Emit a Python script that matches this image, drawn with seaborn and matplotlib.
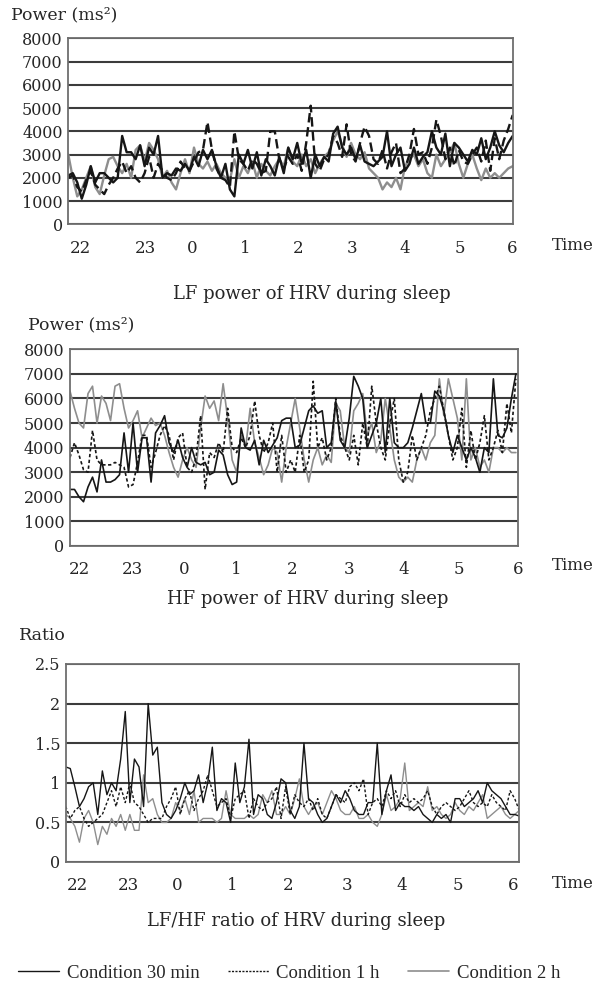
import numpy as np
import matplotlib
matplotlib.use("Agg")
import matplotlib.pyplot as plt
from matplotlib.lines import Line2D
import seaborn as sns

# hour labels along the time axis
hours = ["22", "23", "0", "1", "2", "3", "4", "5", "6"]
conditions = ["Condition 30 min", "Condition 1 h", "Condition 2 h"]

# LF power (ms^2)
lf_30min = [2100, 2200, 1800, 1100, 1700, 2500, 1800, 2200, 2200, 2000,
            1800, 2000, 3800, 3100, 3100, 2800, 3400, 2500, 3300, 3000,
            3800, 2000, 2200, 2100, 2400, 2300, 2600, 2300, 2900, 2500,
            3200, 2800, 3200, 2500, 2000, 2600, 1500, 1200, 3000, 2600,
            3200, 2400, 3100, 2100, 2800, 2500, 2100, 2900, 2200, 3300,
            2800, 3500, 2600, 3200, 2000, 3000, 2500, 2900, 2700, 3900,
            4200, 3300, 3000, 3300, 2800, 3400, 2700, 2600, 2500, 2700,
            2900, 4000, 2500, 3000, 3300, 2300, 2600, 3300, 2600, 2900,
            3100, 4000, 3300, 3000, 3900, 2500, 3500, 3300, 3000, 2700,
            3200, 3000, 3700, 2800, 3300, 4000, 3400, 3100, 3500, 3800]
lf_1h = [2000, 2100, 1600, 1400, 1900, 2300, 1700, 1500, 1300, 1700,
         2000, 2400, 2700, 2200, 2500, 2000, 1800, 2200, 2900, 2000,
         2600, 2300, 2000, 1900, 2200, 2700, 2400, 2300, 2700, 3100,
         3200, 4400, 3200, 2400, 2000, 1900, 1600, 4000, 2800, 2600,
         2300, 2800, 2600, 2200, 2300, 4000, 4000, 2800, 2400, 2900,
         2600, 3000, 2300, 3500, 5100, 2600, 2300, 2800, 3000, 3800,
         3500, 2900, 4300, 3000, 2700, 3500, 4200, 3800, 2800, 2600,
         3200, 2400, 3100, 3500, 2200, 2400, 3000, 4100, 3000, 3100,
         2600, 3300, 4500, 3800, 2800, 3300, 2500, 3200, 2700, 2600,
         3000, 3300, 2700, 3600, 2300, 3700, 2800, 3600, 4100, 4700]
lf_2h = [3000, 2000, 1200, 1500, 2000, 2500, 1600, 1300, 2100, 2800,
         2900, 2500, 2200, 2600, 2000, 3200, 3400, 2700, 3500, 3200,
         2800, 2000, 2300, 1800, 1500, 2200, 2800, 2200, 3300, 2600,
         2400, 2700, 2300, 2600, 2200, 2000, 1900, 2800, 2000, 2500,
         2200, 2700, 2000, 2600, 2300, 2100, 2500, 2800, 2500, 3300,
         2700, 2500, 3000, 2500, 2800, 2200, 2600, 2900, 3100, 3600,
         4000, 3400, 2900, 3500, 3000, 2800, 3100, 2400, 2200, 2000,
         1500, 1800, 1600, 2000, 1500, 2500, 2800, 3000, 2500, 2800,
         2200, 2000, 3000, 2500, 2800, 3100, 3500, 2600, 2000, 2600,
         3000, 2400, 1900, 2400, 2000, 2200, 2000, 2200, 2400, 2500]

# HF power (ms^2)
hf_30min = [2300, 2300, 2000, 1800, 2400, 2800, 2200, 3500, 2600, 2600,
            2700, 2900, 4600, 3000, 5000, 3000, 4400, 4400, 2600, 4600,
            4900, 5300, 4200, 3800, 4300, 3600, 3200, 4000, 3400, 3300,
            3400, 2900, 3000, 3900, 3700, 2900, 2500, 2600, 4800, 4000,
            3900, 4300, 3300, 4300, 3800, 4100, 4400, 5100, 5200, 5200,
            4000, 4100, 4800, 5500, 5700, 5400, 5500, 4000, 4200, 5900,
            4300, 4000, 5200, 6900, 6500, 6000, 4000, 4500, 5000, 6000,
            3800, 6000, 4200, 4000, 4000, 4200, 4800, 5500, 6200, 5000,
            5000, 6300, 6100, 5500, 4500, 3800, 4500, 4000, 3500, 4000,
            3600, 3000, 4000, 3800, 6800, 4500, 4400, 4800, 6000, 7000]
hf_1h = [3600, 4200, 3700, 3100, 3000, 4700, 3500, 3300, 3300, 3300,
         3400, 3300, 3200, 2400, 2500, 3400, 4500, 4500, 3200, 3800,
         4500, 4900, 4500, 3500, 4400, 4600, 3200, 3000, 3600, 5300,
         2300, 3800, 3600, 4200, 3800, 5600, 4000, 3800, 4400, 4000,
         4500, 5900, 4500, 3800, 4200, 5000, 3000, 4500, 3000, 3500,
         3000, 4500, 3000, 3500, 6700, 4000, 4400, 3500, 4000, 6000,
         4500, 4000, 3500, 4500, 3300, 5000, 4000, 6500, 5000, 4000,
         3500, 5000, 6000, 3500, 2600, 3000, 4500, 3500, 4000, 4500,
         5500, 6000, 6500, 5500, 4500, 3500, 4000, 5600, 3200, 4700,
         3500, 4200, 5300, 3500, 4000, 4700, 3800, 5800, 4600, 6800]
hf_2h = [6300, 5600, 5000, 4800, 6200, 6500, 5000, 6100, 5800, 5100,
         6500, 6600, 5600, 4800, 5100, 5500, 4400, 4800, 5200, 4900,
         5000, 4500, 3800, 3200, 2800, 3500, 4000, 3500, 3200, 4800,
         6100, 5600, 5900, 5100, 6600, 5200, 3500, 3000, 4500, 4000,
         5600, 4200, 3600, 2900, 3300, 4000, 3800, 2600, 4000, 5000,
         6000, 4800, 3500, 2600, 3500, 4000, 3300, 3700, 3400, 5800,
         5500, 4000, 3800, 5500, 5800, 6200, 4500, 5000, 3800, 4300,
         6000, 4800, 3500, 2800, 2600, 2800, 2600, 3500, 4000, 3500,
         4200, 4500, 6800, 5300, 6800, 6000, 5200, 3500, 6800, 3500,
         4000, 3200, 3500, 3000, 4000, 4000, 3800, 4000, 3800, 3800]

# LF/HF ratio
ratio_30min = [1.2, 1.18, 0.95, 0.7, 0.8, 0.95, 1.0, 0.6, 1.15, 0.85,
               1.0, 0.9, 1.3, 1.9, 0.75, 1.3, 1.2, 0.7, 2.0, 1.35,
               1.45, 0.75, 0.6, 0.55, 0.65, 0.8, 1.0, 0.85, 0.9, 1.1,
               0.75, 1.0, 1.45, 0.65, 0.8, 0.75, 0.5, 1.25, 0.75, 0.95,
               1.55, 0.6, 0.85, 0.8, 0.6, 0.55, 0.75, 1.05, 1.0, 0.65,
               0.55, 0.7, 1.5, 0.8, 0.75, 0.6, 0.5, 0.55, 0.7, 0.85,
               0.75, 0.9, 0.8, 0.65, 0.6, 0.6, 0.75, 0.75, 1.5, 0.6,
               0.9, 1.1, 0.65, 0.75, 0.7, 0.7, 0.65, 0.7, 0.6, 0.55,
               0.5, 0.6, 0.55, 0.6, 0.5, 0.8, 0.8, 0.7, 0.75, 0.8,
               0.9, 0.75, 1.0, 0.9, 0.85, 0.8, 0.7, 0.6, 0.6, 0.58]
ratio_1h = [0.7, 0.55, 0.65, 0.7, 0.55, 0.45, 0.5, 0.55, 0.6, 0.75,
            0.9, 0.7, 0.95, 0.75, 1.0, 0.75, 0.7, 0.6, 0.5, 0.55,
            0.55, 0.55, 0.7, 0.8, 0.95, 0.6, 0.8, 0.9, 0.65, 0.8,
            0.9, 1.1, 0.9, 0.7, 0.75, 0.8, 0.55, 0.8, 0.85, 0.9,
            0.55, 0.8, 0.7, 0.65, 0.75, 0.8, 0.95, 0.55, 0.95, 0.6,
            0.85, 0.75, 0.7, 0.8, 0.65, 0.8, 0.6, 0.55, 0.7, 0.85,
            0.8, 0.75, 0.95, 1.0, 0.9, 1.05, 0.6, 0.75, 0.8, 0.7,
            0.9, 0.8, 0.9, 0.7, 0.85, 0.75, 0.8, 0.75, 0.8, 0.9,
            0.7, 0.6, 0.7, 0.75, 0.7, 0.65, 0.7, 0.8, 0.9, 0.75,
            0.7, 0.75, 0.7, 0.85, 0.75, 0.7, 0.65, 0.9, 0.8, 0.65]
ratio_2h = [0.6, 0.55, 0.45, 0.25, 0.55, 0.65, 0.5, 0.22, 0.45, 0.35,
            0.55, 0.45, 0.6, 0.4, 0.6, 0.4, 0.4, 1.1, 0.75, 0.8,
            0.6, 0.5, 0.5, 0.55, 0.75, 0.65, 0.8, 0.6, 0.9, 0.5,
            0.55, 0.55, 0.55, 0.5, 0.55, 0.9, 0.6, 0.55, 0.55, 0.55,
            0.6, 0.55, 0.6, 0.85, 0.75, 0.9, 0.6, 0.6, 0.7, 0.6,
            0.8, 1.05, 0.7, 0.6, 0.7, 0.75, 0.6, 0.75, 0.9, 0.8,
            0.65, 0.6, 0.6, 0.7, 0.55, 0.55, 0.6, 0.5, 0.45, 0.6,
            0.85, 0.65, 0.7, 0.8, 1.25, 0.65, 0.7, 0.75, 0.7, 0.95,
            0.65, 0.7, 0.6, 0.55, 0.6, 0.75, 0.65, 0.6, 0.7, 0.65,
            0.75, 0.85, 0.55, 0.6, 0.65, 0.7, 0.6, 0.55, 0.6, 0.65]

sns.set_style("white")
plt.rcParams["font.family"] = ["DejaVu Serif"]

W, H = 607, 983
fig = plt.figure(figsize=(W / 100, H / 100), dpi=100)


def rect(l, t, r, b):
    return [l / W, 1 - b / H, (r - l) / W, (b - t) / H]


def fx(px):
    return px / W


def fy(py):
    return 1 - py / H


BLACK = "#161616"
GRAY = "#8e8e8e"

panels = [
    dict(box=(68.3, 38.3, 512.7, 224.3), series=(lf_2h, lf_1h, lf_30min),
         ylim=8000, step=1000, ylab=[str(v) for v in range(0, 8001, 1000)],
         ticks=[2.6, 17.1, 27.6, 39.4, 51.2, 63.2, 75.0, 87.3, 98.8],
         lw=1.7, dash=(0, (4, 2)), head="Power (ms²)", head_xy=(11, 15),
         title="LF power of HRV during sleep", title_xy=(312, 294), time_y=245),
    dict(box=(70, 349.3, 517.7, 546), series=(hf_2h, hf_1h, hf_30min),
         ylim=8000, step=1000, ylab=[str(v) for v in range(0, 8001, 1000)],
         ticks=[2.2, 13.9, 25.4, 36.9, 49.3, 61.9, 74.1, 86.3, 99.4],
         lw=1.2, dash=(0, (2, 1.5)), head="Power (ms²)", head_xy=(28, 325),
         title="HF power of HRV during sleep", title_xy=(308, 599), time_y=566),
    dict(box=(65.7, 664, 519.3, 862), series=(ratio_2h, ratio_1h, ratio_30min),
         ylim=2.5, step=0.5, ylab=["0", "0.5", "1", "1.5", "2", "2.5"],
         ticks=[2.5, 13.6, 24.3, 36.3, 48.5, 61.4, 73.4, 85.7, 97.7],
         lw=1.0, dash=(0, (2, 1.5)), head="Ratio", head_xy=(19, 636),
         title="LF/HF ratio of HRV during sleep", title_xy=(296, 921), time_y=884),
]

for p in panels:
    ax = fig.add_axes(rect(*p["box"]))
    styles = [(GRAY, "-"), (BLACK, p["dash"]), (BLACK, "-")]
    for vals, (col, ls) in zip(p["series"], styles):
        sns.lineplot(x=np.arange(len(vals)), y=vals, ax=ax, color=col,
                     linestyle=ls, linewidth=p["lw"])
    ax.set_xlim(0, 99)
    ax.set_ylim(0, p["ylim"])
    ax.set_yticks(np.arange(0, p["ylim"] + p["step"] / 2, p["step"]))
    ax.set_yticklabels(p["ylab"])
    ax.set_xticks(p["ticks"])
    ax.set_xticklabels(hours)
    ax.yaxis.grid(True, color="#3c3c3c", linewidth=1.5)
    ax.set_axisbelow(True)
    ax.tick_params(axis="y", length=0, pad=4, labelsize=11.5)
    ax.tick_params(axis="x", length=0, pad=11, labelsize=12)
    ax.set_xlabel("")
    ax.set_ylabel("")
    for s in ax.spines.values():
        s.set_color("#6e6e6e")
        s.set_linewidth(1.3)
    fig.text(fx(p["head_xy"][0]), fy(p["head_xy"][1]), p["head"],
             ha="left", va="center", fontsize=12.5)
    fig.text(fx(p["title_xy"][0]), fy(p["title_xy"][1]), p["title"],
             ha="center", va="center", fontsize=13)
    fig.text(fx(552), fy(p["time_y"]), "Time", ha="left", va="center",
             fontsize=12)

handles = [Line2D([], [], color=BLACK, lw=1.0),
           Line2D([], [], color=BLACK, lw=1.0, linestyle=(0, (1.5, 1))),
           Line2D([], [], color=GRAY, lw=1.2)]
fig.legend(handles, conditions, loc="center", bbox_to_anchor=(fx(289), fy(973)),
           ncol=3, frameon=False, handlelength=2.2, handletextpad=0.4,
           columnspacing=1.5, prop={"family": "Liberation Serif", "size": 13.5})

fig.savefig("out.png", dpi=100, facecolor="white")
